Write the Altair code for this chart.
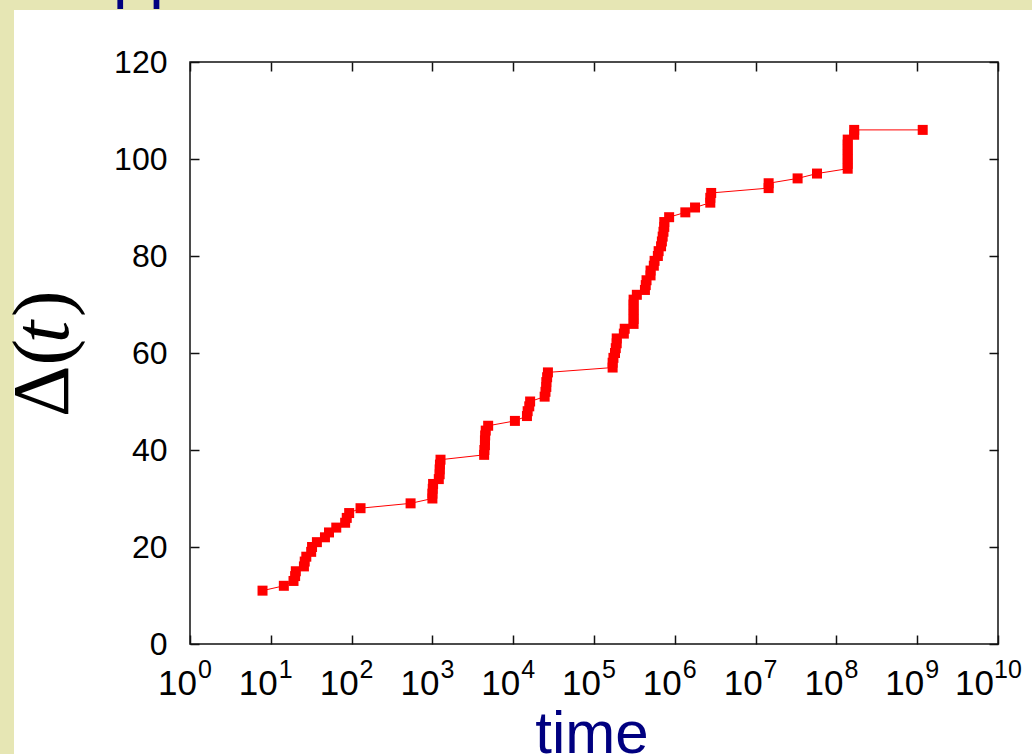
import altair as alt
import pandas as pd

# ---- data ----
times = [7.9, 14.5, 19.1, 20.0, 20.4, 25.7, 26.3, 27.5, 31.6, 32.4, 37.2, 46.8, 52.5, 64.6, 83.2,
         87.1, 93.3, 129, 537, 1000, 1000, 1010, 1020, 1200, 1230, 1230, 1240, 1260,
         4370, 4400, 4470, 4470, 4500, 4570, 4900, 10500, 14800, 15100, 15800, 16200,
         24500, 25100, 25700, 25700, 26300, 26900,
         170000, 170000, 174000, 182000, 186000, 191000, 191000, 234000, 240000,
         309000, 309000, 309000, 309000, 309000, 309000, 339000, 427000, 437000, 447000,
         501000, 501000, 550000, 562000, 617000, 631000, 676000, 692000, 708000, 724000,
         741000, 741000, 851000, 1350000, 1780000, 2750000, 2750000, 2820000,
         14500000, 14500000, 33100000, 57500000,
         138000000, 138000000, 138000000, 138000000, 138000000, 138000000, 138000000,
         166000000, 166000000, 1170000000]
delta = [11, 12, 13, 14, 15, 16, 17, 18, 19, 20, 21, 22, 23, 24, 25,
         26, 27, 28, 29, 30, 31, 32, 33, 34, 35, 36, 37, 38,
         39, 40, 41, 42, 43, 44, 45, 46, 47, 48, 49, 50,
         51, 52, 53, 54, 55, 56,
         57, 58, 59, 60, 61, 62, 63, 64, 65,
         66, 67, 68, 69, 70, 71, 72, 73, 74, 75,
         76, 77, 78, 79, 80, 81, 82, 83, 84, 85,
         86, 87, 88, 89, 90, 91, 92, 93,
         94, 95, 96, 97,
         98, 99, 100, 101, 102, 103, 104,
         105, 106, 106]

xtick_values = [1, 10, 100, 1000, 1e4, 1e5, 1e6, 1e7, 1e8, 1e9, 1e10]
xtick_exponents = ["0", "1", "2", "3", "4", "5", "6", "7", "8", "9", "10"]
ytick_values = [0, 20, 40, 60, 80, 100, 120]

df = pd.DataFrame({"t": times, "d": delta, "i": list(range(len(times)))})
ticks_df = pd.DataFrame({"t": xtick_values, "e": xtick_exponents,
                         "n": [len(s) for s in xtick_exponents]})
one = pd.DataFrame({"a": [0]})

W, H = 808, 582
RED = "#ff0000"
NAVY = "#000080"
BEIGE = "#e6e6b4"
SANS = "Liberation Sans"
SERIF = "Liberation Serif"

xscale = alt.Scale(type="log", domain=[1, 1e10], nice=False)
yscale = alt.Scale(domain=[0, 120], nice=False)

tick_style = dict(domain=False, grid=False, tickSize=9, offset=-9, tickColor="#111111",
                  tickWidth=1.5, title=None, zindex=1)

# beige strips around the white slide panel
strip_top = alt.Chart(one).mark_rect(color=BEIGE).encode(
    x=alt.value(-190), x2=alt.value(842), y=alt.value(-62), y2=alt.value(-52))
strip_left = alt.Chart(one).mark_rect(color=BEIGE).encode(
    x=alt.value(-190), x2=alt.value(-176), y=alt.value(-62), y2=alt.value(692))

line = alt.Chart(df).mark_line(color=RED, strokeWidth=1).encode(
    x=alt.X("t:Q", scale=xscale,
            axis=alt.Axis(orient="bottom", values=xtick_values, labels=False, **tick_style)),
    y=alt.Y("d:Q", scale=yscale,
            axis=alt.Axis(orient="left", values=ytick_values, labelFontSize=32, labelFont=SANS,
                          labelColor="black", labelPadding=23, labelFlush=False,
                          labelOverlap=False, **tick_style)),
    order="i:Q")

points = alt.Chart(df).mark_square(color=RED, size=100, opacity=1).encode(
    x=alt.X("t:Q", scale=xscale,
            axis=alt.Axis(orient="top", values=xtick_values, labels=False, **tick_style)),
    y=alt.Y("d:Q", scale=yscale,
            axis=alt.Axis(orient="right", values=ytick_values, labels=False, **tick_style)))

# x tick labels: "10" with superscript exponent
base1 = alt.Chart(ticks_df).transform_filter("datum.n == 1").mark_text(
    text="10", font=SANS, fontSize=35, color="black", align="right", baseline="alphabetic", dx=7
).encode(x=alt.X("t:Q", scale=xscale, axis=None), y=alt.value(633))
exp1 = alt.Chart(ticks_df).transform_filter("datum.n == 1").mark_text(
    font=SANS, fontSize=25, color="black", align="left", baseline="alphabetic", dx=8
).encode(x=alt.X("t:Q", scale=xscale, axis=None), y=alt.value(616), text="e:N")
base2 = alt.Chart(ticks_df).transform_filter("datum.n == 2").mark_text(
    text="10", font=SANS, fontSize=35, color="black", align="right", baseline="alphabetic", dx=-4
).encode(x=alt.X("t:Q", scale=xscale, axis=None), y=alt.value(633))
exp2 = alt.Chart(ticks_df).transform_filter("datum.n == 2").mark_text(
    font=SANS, fontSize=25, color="black", align="left", baseline="alphabetic", dx=-4
).encode(x=alt.X("t:Q", scale=xscale, axis=None), y=alt.value(616), text="e:N")

# axis titles
xtitle = alt.Chart(one).mark_text(text="time", font=SANS, fontSize=60, color=NAVY,
                                  align="center", baseline="alphabetic").encode(
    x=alt.value(402), y=alt.value(691))
ytitle1 = alt.Chart(one).mark_text(text="Δ(", font=SERIF, fontSize=80, color="black",
                                   align="left", baseline="alphabetic", angle=270).encode(
    x=alt.value(-122), y=alt.value(355))
ytitle2 = alt.Chart(one).mark_text(text="t", font=SERIF, fontSize=80, fontStyle="italic",
                                   color="black", align="left", baseline="alphabetic",
                                   angle=270).encode(
    x=alt.value(-122), y=alt.value(281))
ytitle3 = alt.Chart(one).mark_text(text=")", font=SERIF, fontSize=80, color="black",
                                   align="left", baseline="alphabetic", angle=270).encode(
    x=alt.value(-122), y=alt.value(255))

# heading cut off at top of the frame
heading = alt.Chart(one).mark_text(text="pp", font=SANS, fontSize=65, color=NAVY,
                                   align="left", baseline="alphabetic").encode(
    x=alt.value(-77), y=alt.value(-66))

chart = alt.layer(
    strip_top, strip_left, heading, line, points, base1, exp1, base2, exp2,
    xtitle, ytitle1, ytitle2, ytitle3
).resolve_axis(x="independent", y="independent").properties(
    width=W, height=H,
    autosize=alt.AutoSizeParams(type="none"),
    padding={"left": 190, "top": 62, "right": 34, "bottom": 110},
    background="white",
).configure_view(stroke="#111111", strokeWidth=1.5)

chart.save("out.html", embed_options={"renderer": "svg", "actions": False})
